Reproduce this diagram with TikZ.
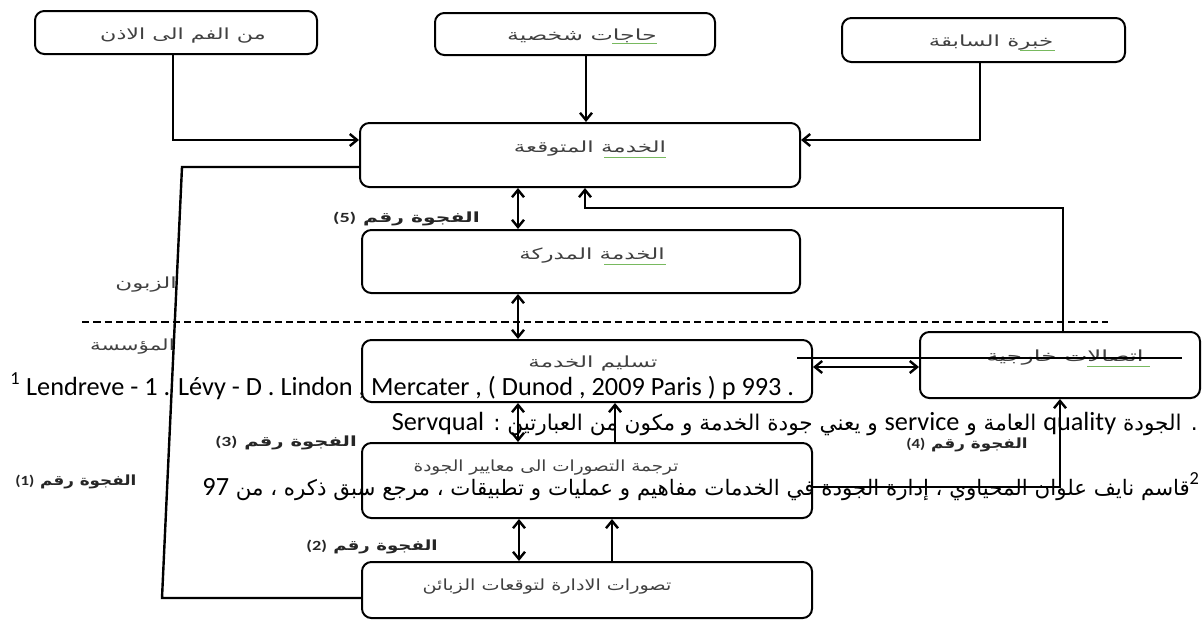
\documentclass[tikz,border=0pt]{standalone}
\usepackage{fontspec}
\usepackage{graphicx}
\setmainfont{Carlito}
\newfontfamily\arabicfont[Script=Arabic]{DejaVu Sans}
\TeXXeTstate=1
\usetikzlibrary{arrows.meta,fit}
\definecolor{spellgreen}{RGB}{120,185,95}
\newcommand{\lat}[1]{\beginL{\rmfamily #1}\endL{}}
\newcommand{\AR}[1]{{\arabicfont\beginR #1\endR}}
\newcommand{\SX}[2]{\scalebox{#1}[1]{#2}}
\begin{document}
\begin{tikzpicture}[x=0.75pt,y=-0.75pt,
  box/.style={draw=black, line width=1.5pt, rounded corners=7pt, inner sep=0pt},
  con/.style={line width=1.8pt},
  arr/.style={con, -{Straight Barb[length=5.5pt,width=9pt]}},
  darr/.style={con, {Straight Barb[length=5.5pt,width=9pt]}-{Straight Barb[length=5.5pt,width=9pt]}},
  lbl/.style={font=\fontsize{11.5}{13}\selectfont, text=black!75, inner sep=0pt},
  gaplbl/.style={font=\bfseries\fontsize{10.5}{12}\selectfont, text=black!85, inner sep=0pt},
  fn/.style={font=\fontsize{19.7}{22}\selectfont, inner sep=0pt},
  spell/.style={draw=spellgreen, line width=0.7pt},
]
\useasboundingbox[fill=white] (0,0) rectangle (1204,621);

% boxes
\node[box, fit={(35,11) (317,54)}] (b1) {};
\node[box, fit={(435,13) (715,55)}] (b2) {};
\node[box, fit={(842,18) (1125,62)}] (b3) {};
\node[box, fit={(360,123) (800,187)}] (b4) {};
\node[box, fit={(362,230) (800,293)}] (b5) {};
\node[box, fit={(362,340) (812,402)}] (b6) {};
\node[box, fit={(920,332) (1200,398)}] (b7) {};
\node[box, fit={(362,443) (812,518)}] (b8) {};
\node[box, fit={(362,562) (812,618)}] (b9) {};

% box labels
\node[lbl] (t1) at (183,36) {\SX{1.45}{\AR{من الفم الى الاذن}}};
\node[lbl] (t2) at (582,36) {\SX{1.55}{\AR{حاجات شخصية}}};
\node[lbl] (t3) at (991,43) {\SX{1.5}{\AR{خبرة السابقة}}};
\node[lbl] (t4) at (590,149) {\SX{1.5}{\AR{الخدمة المتوقعة}}};
\node[lbl] (t5) at (592,256) {\SX{1.5}{\AR{الخدمة المدركة}}};
\node[lbl] (t6) at (593,364) {\SX{1.5}{\AR{تسليم الخدمة}}};
\node[lbl] (t7) at (1065,358) {\SX{1.6}{\AR{اتصالات خارجية}}};
\node[lbl] (t8) at (546,468) {\SX{1.2}{\AR{ترجمة التصورات الى معايير الجودة}}};
\node[lbl] (t9) at (547,587) {\SX{1.25}{\AR{تصورات الادارة لتوقعات الزبائن}}};

% spell-check underlines
\draw[spell] (612,43) -- (657,43);
\draw[spell] (1020,50) -- (1055,50);
\draw[spell] (604,157) -- (666,157);
\draw[spell] (604,264) -- (666,264);
\draw[spell] (1087,366) -- (1150,366);

% side labels
\node[lbl, anchor=east] (cust) at (177,285) {\SX{1.5}{\AR{الزبون}}};
\node[lbl, anchor=east] (inst) at (175,347) {\SX{1.4}{\AR{المؤسسة}}};

% gap labels
\node[gaplbl, anchor=east] (g5) at (480,219) {\SX{1.45}{\AR{الفجوة رقم \lat{(5)}}}};
\node[gaplbl, anchor=east] (g3) at (357,443) {\SX{1.4}{\AR{الفجوة رقم \lat{(3)}}}};
\node[gaplbl, anchor=west] (g1) at (15,482) {\SX{1.2}{\AR{الفجوة رقم \lat{(1)}}}};
\node[gaplbl, anchor=east] (g2) at (438,547) {\SX{1.3}{\AR{الفجوة رقم \lat{(2)}}}};
\node[gaplbl] (g4) at (967,445) {\SX{1.2}{\AR{الفجوة رقم \lat{(4)}}}};

% connectors
\draw[arr] (b1.south -| 173,0) |- (b4.west |- 0,140);
\draw[arr] (b2.south -| 586,0) -- (b4.north -| 586,0);
\draw[arr] (b3.south -| 980,0) |- (b4.east |- 0,140);
\draw[con] (b4.west |- 0,167) -- (182,167) -- (162,598) -- (b9.west |- 0,598);
\draw[darr] (b4.south -| 518,0) -- (b5.north -| 518,0);
\draw[arr] (b7.north -| 1063,0) |- (585,208) -- (b4.south -| 585,0);
\draw[darr] (b5.south -| 518,0) -- (b6.north -| 518,0);
\draw[line width=1.9pt, dash pattern=on 5.5pt off 3pt] (82,322) -- (1108,322);
\draw[darr] (b6.east |- 0,367) -- (b7.west |- 0,367);
\draw[darr] (b6.south -| 518,0) -- (b8.north -| 518,0);
\draw[arr] (b8.north -| 615,0) -- (b6.south -| 615,0);
\draw[darr] (b8.south -| 519,0) -- (b9.north -| 519,0);
\draw[arr] (b9.north -| 612,0) -- (b8.south -| 612,0);
\draw[arr] (b8.east |- 0,487) -| (b7.south -| 1060,0);

% overlaid footnote text
\draw[line width=1.1pt] (797,358) -- (1182,358);
\node[fn, anchor=base west] (fn1) at (10,395) {\textsuperscript{1} Lendreve - 1 . Lévy - D . Lindon , Mercater , ( Dunod , 2009 Paris ) p 993 .};
\node[fn, anchor=base east] (fn2) at (1198,430) {\AR{\fontsize{16.2}{20}\selectfont . الجودة \lat{\fontsize{19.7}{22}\selectfont quality} العامة و \lat{\fontsize{19.7}{22}\selectfont service} و يعني جودة الخدمة و مكون من العبارتين : \lat{\fontsize{19.7}{22}\selectfont Servqual}}};
\node[fn, anchor=base east] (fn3) at (1200,495) {\AR{\fontsize{16.0}{20}\selectfont \lat{\fontsize{19.7}{22}\selectfont\textsuperscript{2}}قاسم نايف علوان المحياوي ، إدارة الجودة في الخدمات مفاهيم و عمليات و تطبيقات ، مرجع سبق ذكره ، من \lat{\fontsize{19.7}{22}\selectfont 97}}};
\end{tikzpicture}
\end{document}
